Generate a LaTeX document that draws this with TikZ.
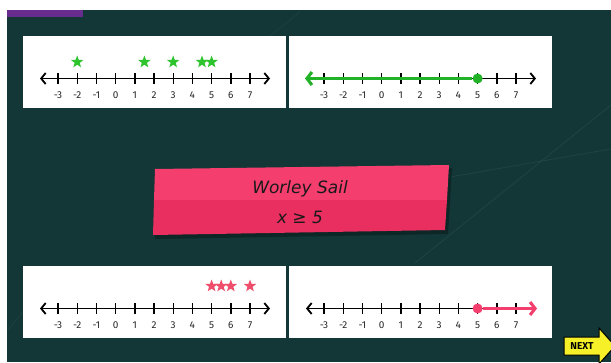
\documentclass[tikz,border=0pt]{standalone}
\usepackage{fontspec}
\setmainfont{Fira Sans}
\newfontfamily\bannerfont{DejaVu Sans}
\usetikzlibrary{arrows.meta,shapes.geometric}
\definecolor{slideteal}{RGB}{19,55,55}
\definecolor{slidepurple}{RGB}{104,44,142}
\definecolor{stargreen}{RGB}{46,196,46}
\definecolor{linegreen}{RGB}{34,178,40}
\definecolor{bannerpink}{RGB}{244,62,110}
\definecolor{bannerdark}{RGB}{232,47,96}
\definecolor{starpink}{RGB}{238,78,108}
\definecolor{nextyellow}{RGB}{246,240,40}
\tikzset{
  panel/.style={fill=white},
  numaxis/.style={line width=1.8pt, {Straight Barb[length=4.5pt,width=11pt]}-{Straight Barb[length=4.5pt,width=11pt]}},
  tickmark/.style={line width=1.4pt},
  ticklbl/.style={font=\fontsize{10}{11}\selectfont, text=black!85, inner sep=0pt},
  pointstar/.style={star, star points=5, star point ratio=2.4, inner sep=0pt, minimum size=13pt},
  solset/.style={line width=3pt, line cap=round},
  enddot/.style={circle, inner sep=0pt, minimum size=10pt},
  bannertxt/.style={font=\bannerfont\itshape\fontsize{17}{19}\selectfont, text=black!90},
}
\begin{document}
\begin{tikzpicture}[x=1pt, y=-1pt, >=stealth]
  \useasboundingbox (0,0) rectangle (611,362);
  \fill[white] (0,0) rectangle (611,362);
  % slide
  \fill[slideteal] (7,10) rectangle (611,362);
  \fill[slidepurple] (7,10) rectangle (83,17);
  \draw[white, opacity=0.06, line width=0.8pt] (415,263) -- (611,105);
  \draw[white, opacity=0.06, line width=0.8pt] (450,177) -- (611,149);
  \draw[white, opacity=0.04, line width=0.8pt] (8,330) -- (60,266);
  \draw[white, opacity=0.04, line width=0.8pt] (270,36) -- (300,12);

  % the four number lines
  \foreach \px/\py/\pn in {23/36/tl, 289/36/tr, 23/266/bl, 289/266/br} {
    \begin{scope}[shift={(\px,\py)}]
      \fill[panel] (0,0) rectangle (263,72);
      \coordinate (\pn-left) at (17,42.5);
      \coordinate (\pn-right) at (247,42.5);
      \draw[numaxis] (\pn-left) -- (\pn-right);
      \foreach \n in {-3,...,7} {
        \coordinate (\pn-\n) at ({35+(\n+3)*19.2},42.5);
        \draw[tickmark] ([yshift=-5.5pt]\pn-\n) -- ([yshift=5.5pt]\pn-\n);
        \node[ticklbl] (\pn-lbl\n) at ({35+(\n+3)*19.2},59.5) {\n};
      }
    \end{scope}
  }

  % top left: data
  \foreach \v [count=\i] in {-2,1.5,3,4.5,5}
    \node[pointstar, fill=stargreen] (tl-star\i) at ({58+(\v+3)*19.2},62) {};

  % top right: x <= 5
  \node[enddot, fill=linegreen] (tr-dot) at (tr-5) {};
  \draw[solset, linegreen, line cap=butt, -{Straight Barb[length=5pt,width=13pt]}] (tr-dot) -- ([xshift=-1pt]tr-left);

  % bottom left: data
  \foreach \v [count=\i] in {5,5.5,6,7}
    \node[pointstar, fill=starpink] (bl-star\i) at ({58+(\v+3)*19.2},286) {};

  % bottom right: x >= 5
  \node[enddot, fill=bannerpink] (br-dot) at (br-5) {};
  \draw[solset, bannerpink, line cap=butt, -{Straight Barb[length=5pt,width=13pt]}] (br-dot) -- ([xshift=1pt]br-right);

  % banner
  \fill[black, opacity=0.3] (157,172) -- (452,168) -- (448,234) -- (155,239) -- cycle;
  \fill[bannerpink] (155,169) -- (449,165) -- (447,200) -- (154,200) -- cycle;
  \fill[bannerdark] (154,200) -- (447,200) -- (445,230) -- (153,235) -- cycle;
  \node[bannertxt] (title) at (300,189) {Worley Sail};
  \node[bannertxt] (ineq) at (300,217) {x ≥ 5};

  % next button
  \filldraw[fill=nextyellow, draw=black, line width=1pt] (564,337) -- (599,337) -- (599,328) -- (615,346) -- (599,364) -- (599,355) -- (564,355) -- cycle;
  \node[font=\bfseries\fontsize{10}{11}\selectfont, inner sep=0pt] (next) at (582,346) {NEXT};
\end{tikzpicture}
\end{document}
